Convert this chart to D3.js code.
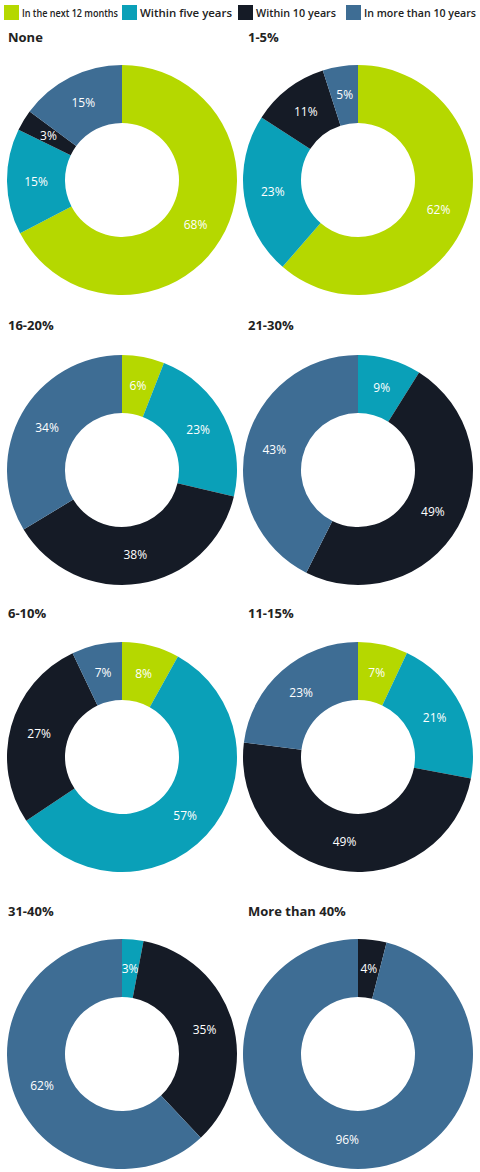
<!DOCTYPE html>
<html><head><meta charset="utf-8">
<script src="https://cdn.jsdelivr.net/npm/d3@7"></script>
<style>body{margin:0;background:#fff}</style></head>
<body><svg id="c" width="480" height="1172"></svg>
<script>
const series = ["In the next 12 months","Within five years","Within 10 years","In more than 10 years"];
const colors = ["#b5d800","#0aa0b8","#151b26","#3e6d94"];
const titles = ["None","1-5%","16-20%","21-30%","6-10%","11-15%","31-40%","More than 40%"];
const vNone = [68,15,3,15];
const v1_5 = [62,23,11,5];
const v16_20 = [6,23,38,34];
const v21_30 = [0,9,49,43];
const v6_10 = [8,57,27,7];
const v11_15 = [7,21,49,23];
const v31_40 = [0,3,35,62];
const v40 = [0,0,4,96];
const values = [vNone,v1_5,v16_20,v21_30,v6_10,v11_15,v31_40,v40];

const svg = d3.select("#c");
const font = "'Open Sans', 'DejaVu Sans', sans-serif";
const lx = [4,122,238,346];
const lw = [96,92,80,112];
const lg = svg.append("g");
series.forEach((s,i)=>{
  lg.append("rect").attr("x",lx[i]).attr("y",5).attr("width",15).attr("height",15).attr("fill",colors[i]);
  lg.append("text").attr("x",lx[i]+18).attr("y",17).text(s).attr("font-family",font).attr("font-size",11.5).attr("font-weight",600).attr("fill","#222")
    .attr("textLength",lw[i]).attr("lengthAdjust","spacingAndGlyphs");
});
const cx = [122,358];
const cy = [180,470,757,1054];
const ty = [42,330,618,916];
const R = 115, r0 = 57;
const pie = d3.pie().sort(null).value(d=>d);
const arc = d3.arc().innerRadius(r0).outerRadius(R);
const labArc = d3.arc().innerRadius(86).outerRadius(86);
values.forEach((vals,k)=>{
  const col = k%2, row = Math.floor(k/2);
  svg.append("text").attr("x",col?248:8).attr("y",ty[row]).text(titles[k])
    .attr("font-family",font).attr("font-size",13).attr("font-weight",700).attr("fill","#222");
  const g = svg.append("g").attr("transform",`translate(${cx[col]},${cy[row]})`);
  const arcs = pie(vals);
  g.selectAll("path").data(arcs).join("path").attr("d",arc).attr("fill",(d,i)=>colors[i]);
  g.selectAll("text").data(arcs.filter(d=>d.data>0)).join("text")
    .attr("transform",d=>`translate(${labArc.centroid(d)})`)
    .attr("text-anchor","middle").attr("dy","0.35em")
    .attr("font-family",font).attr("font-size",12).attr("fill","#fff")
    .text(d=>d.data+"%");
});
</script></body></html>
